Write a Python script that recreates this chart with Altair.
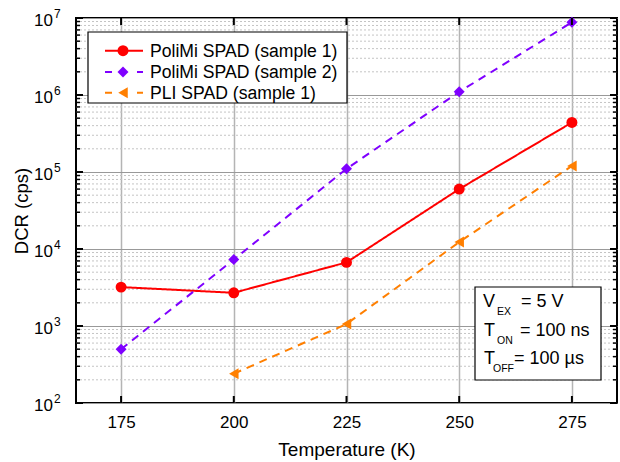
import altair as alt
import pandas as pd

# ---------------- data ----------------
series_names = ["PoliMi SPAD (sample 1)", "PoliMi SPAD (sample 2)", "PLI SPAD (sample 1)"]
colors = ["#ff0000", "#7f00ff", "#ff7f00"]
shapes = ["circle", "diamond", "triangle-left"]
dashes = [[1, 0], [8, 6], [8, 6]]

temps_s1 = [175, 200, 225, 250, 275]
dcr_s1 = [3200, 2700, 6700, 60000, 440000]
temps_s2 = [175, 200, 225, 250, 275]
dcr_s2 = [500, 7300, 110000, 1100000, 8800000]
temps_pli = [200, 225, 250, 275]
dcr_pli = [240, 1060, 12300, 120000]

x_ticks = [175, 200, 225, 250, 275]
y_major = [1e2, 1e3, 1e4, 1e5, 1e6, 1e7]
y_exp = ["2", "3", "4", "5", "6", "7"]
y_minor = [m * 10 ** e for e in range(2, 7) for m in range(2, 10)]

annot_main = ["V", "T", "T"]
annot_sub = ["EX", "ON", "OFF"]
annot_val = ["= 5 V", "= 100 ns", "= 100 µs"]

# ---------------- layout ----------------
W, H = 541, 385
FONT = "Liberation Sans"

rows = []
for name, ts, vs in [(series_names[0], temps_s1, dcr_s1),
                     (series_names[1], temps_s2, dcr_s2),
                     (series_names[2], temps_pli, dcr_pli)]:
    for t, v in zip(ts, vs):
        rows.append({"series": name, "temp": t, "dcr": v})
df = pd.DataFrame(rows)

xscale = alt.Scale(domain=[165, 285], nice=False, zero=False)
yscale = alt.Scale(type="log", domain=[100, 1e7], nice=False)

color_enc = alt.Color("series:N", scale=alt.Scale(domain=series_names, range=colors), legend=None)

base = alt.Chart(df)

x_enc = alt.X("temp:Q", scale=xscale,
              axis=alt.Axis(values=x_ticks, grid=True, gridColor="#b4b4b4", gridWidth=1.5,
                            ticks=False, domain=False, labelFontSize=17, labelPadding=11,
                            labelFont=FONT, labelColor="black",
                            title="Temperature (K)", titleFontSize=19, titleFont=FONT,
                            titleFontWeight="normal", titlePadding=10, titleColor="black"))
y_enc = alt.Y("dcr:Q", scale=yscale,
              axis=alt.Axis(values=y_major, grid=True, gridColor="#999999", gridWidth=1.2,
                            labels=False, ticks=False, domain=False,
                            title="DCR (cps)", titleFontSize=18.5, titleFont=FONT,
                            titleFontWeight="normal", titlePadding=45, titleColor="black"))

# minor dotted grid
minor_grid = alt.Chart(pd.DataFrame({"v": y_minor})).mark_rule(
    color="#c4c4c4", strokeDash=[2, 2], strokeWidth=1).encode(
    y=alt.Y("v:Q", scale=yscale), x=alt.value(0), x2=alt.value(W))

lines = base.mark_line(strokeWidth=2).encode(
    x=x_enc, y=y_enc, color=color_enc,
    strokeDash=alt.StrokeDash("series:N", scale=alt.Scale(domain=series_names, range=dashes), legend=None),
    detail="series:N")

points = base.mark_point(filled=True, opacity=1, size=120).encode(
    x=alt.X("temp:Q", scale=xscale), y=alt.Y("dcr:Q", scale=yscale), color=color_enc,
    shape=alt.Shape("series:N", scale=alt.Scale(domain=series_names, range=shapes), legend=None))

# inside ticks
dmaj = pd.DataFrame({"v": y_major, "e": y_exp})
dmin = pd.DataFrame({"v": y_minor})
dxt = pd.DataFrame({"t": x_ticks})
ticks = [
    alt.Chart(dmaj).mark_rule(color="black", strokeWidth=2).encode(
        y=alt.Y("v:Q", scale=yscale), x=alt.value(0), x2=alt.value(7)),
    alt.Chart(dmaj).mark_rule(color="black", strokeWidth=2).encode(
        y=alt.Y("v:Q", scale=yscale), x=alt.value(W - 7), x2=alt.value(W)),
    alt.Chart(dmin).mark_rule(color="black", strokeWidth=1.5).encode(
        y=alt.Y("v:Q", scale=yscale), x=alt.value(0), x2=alt.value(4)),
    alt.Chart(dmin).mark_rule(color="black", strokeWidth=1.5).encode(
        y=alt.Y("v:Q", scale=yscale), x=alt.value(W - 4), x2=alt.value(W)),
    alt.Chart(dxt).mark_rule(color="black", strokeWidth=2).encode(
        x=alt.X("t:Q", scale=xscale), y=alt.value(H - 7), y2=alt.value(H)),
    alt.Chart(dxt).mark_rule(color="black", strokeWidth=2).encode(
        x=alt.X("t:Q", scale=xscale), y=alt.value(0), y2=alt.value(7)),
]

# y tick labels 10^n
ylab_base = alt.Chart(dmaj).mark_text(align="right", baseline="alphabetic", dy=8,
                                      fontSize=17, font=FONT, color="black").encode(
    y=alt.Y("v:Q", scale=yscale), x=alt.value(-23), text=alt.value("10"))
ylab_exp = alt.Chart(dmaj).mark_text(align="left", baseline="alphabetic", dy=0,
                                     fontSize=12, font=FONT, color="black").encode(
    y=alt.Y("v:Q", scale=yscale), x=alt.value(-22), text="e:N")

# legend (drawn)
one = pd.DataFrame({"a": [0]})
legend_layers = [
    alt.Chart(one).mark_rect(fill="white", stroke="black", strokeWidth=1.2).encode(
        x=alt.value(12), x2=alt.value(271), y=alt.value(14), y2=alt.value(85))
]
leg_y = [32.7, 54.0, 74.7]
leg_dash = [[1, 0], [7, 25], [7, 25]]
for i, name in enumerate(series_names):
    ld = pd.DataFrame({"series": [name]})
    legend_layers.append(alt.Chart(ld).mark_rule(strokeWidth=2, strokeDash=leg_dash[i], color=colors[i]).encode(
        x=alt.value(29), x2=alt.value(67), y=alt.value(leg_y[i])))
    legend_layers.append(alt.Chart(ld).mark_point(filled=True, opacity=1, size=120, shape=shapes[i],
                                                  color=colors[i]).encode(
        x=alt.value(47), y=alt.value(leg_y[i])))
    legend_layers.append(alt.Chart(ld).mark_text(align="left", baseline="middle", fontSize=17.6,
                                                 font=FONT, color="black").encode(
        x=alt.value(74), y=alt.value(leg_y[i] + 1), text="series:N"))

# annotation box
annot_layers = [
    alt.Chart(one).mark_rect(fill="white", stroke="black", strokeWidth=1.2).encode(
        x=alt.value(399), x2=alt.value(525), y=alt.value(269), y2=alt.value(362))
]
ann_base_y = [289, 318, 346]
ann_main_x = [407, 408, 408]
ann_sub_x = [421, 421, 417]
ann_val_x = [445, 444, 438]
for i in range(3):
    ad = pd.DataFrame({"m": [annot_main[i]], "s": [annot_sub[i]], "v": [annot_val[i]]})
    annot_layers.append(alt.Chart(ad).mark_text(align="left", baseline="alphabetic", fontSize=18,
                                                font=FONT, color="black").encode(
        x=alt.value(ann_main_x[i]), y=alt.value(ann_base_y[i]), text="m:N"))
    annot_layers.append(alt.Chart(ad).mark_text(align="left", baseline="alphabetic", fontSize=10.5,
                                                font=FONT, color="black").encode(
        x=alt.value(ann_sub_x[i]), y=alt.value(ann_base_y[i] + 8), text="s:N"))
    annot_layers.append(alt.Chart(ad).mark_text(align="left", baseline="alphabetic", fontSize=18,
                                                font=FONT, color="black").encode(
        x=alt.value(ann_val_x[i]), y=alt.value(ann_base_y[i]), text="v:N"))

chart = alt.layer(minor_grid, lines, points, *ticks, ylab_base, ylab_exp,
                  *legend_layers, *annot_layers).properties(
    width=W, height=H,
    autosize=alt.AutoSizeParams(type="none"),
    padding={"left": 76, "top": 18, "right": 3, "bottom": 59},
    background="white",
).configure_view(stroke="black", strokeWidth=2)

chart.save("out.html", embed_options={"renderer": "svg", "actions": False})
